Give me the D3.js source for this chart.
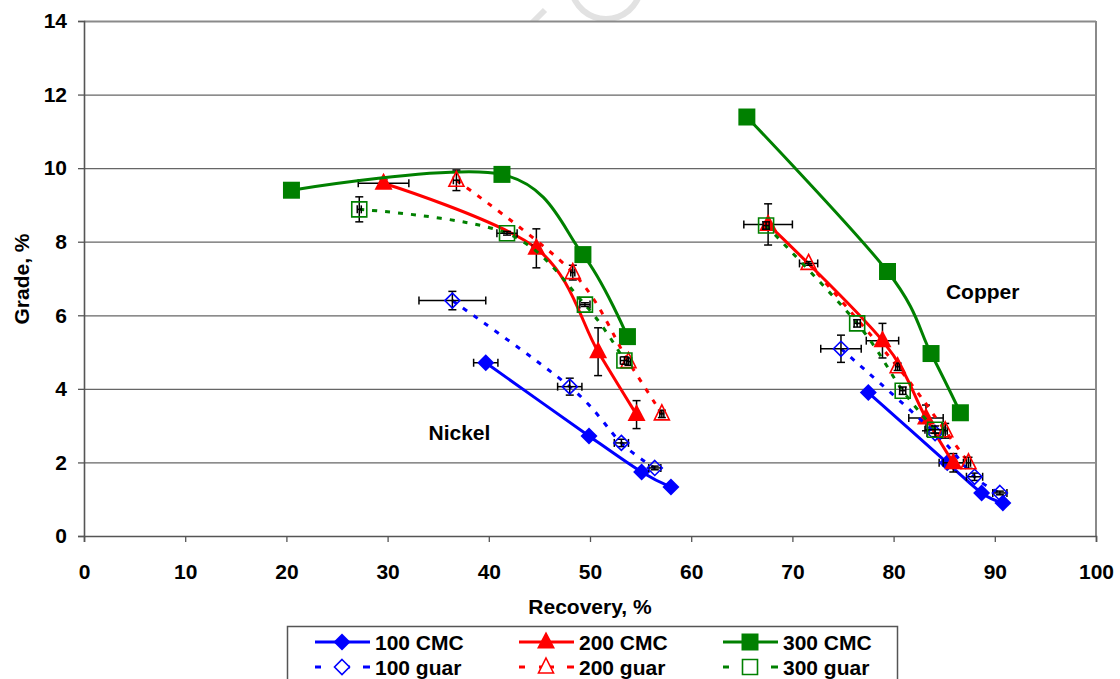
<!DOCTYPE html>
<html>
<head>
<meta charset="utf-8">
<script src="https://cdn.jsdelivr.net/npm/d3@7"></script>
<style>
  html, body { margin: 0; padding: 0; background: #fff; }
  svg { display: block; font-family: "Liberation Sans", Arial, sans-serif; font-weight: bold; }
</style>
</head>
<body>
<svg id="chart" width="1120" height="679"></svg>
<script>
// Grade–recovery points: [recovery %, grade %, recovery error, grade error]
const cmc100Ni  = [[39.7,4.71,1.2,0.05],[49.9,2.72,0,0],[55.1,1.74,0,0],[58.0,1.33,0,0]];
const cmc100Cu  = [[77.5,3.90,0,0],[85.3,1.99,0.8,0],[88.7,1.17,0,0],[90.8,0.90,0,0]];
const cmc200Ni  = [[29.6,9.59,2.5,0.1],[44.7,7.82,0.4,0.53],[50.8,5.01,0.2,0.65],[54.6,3.30,0,0.38]];
const cmc200Cu  = [[67.6,8.47,2.4,0.56],[78.9,5.31,1.6,0.47],[83.2,3.21,1.7,0.35],[85.9,1.99,1.0,0.25]];
const cmc300Ni  = [[20.5,9.40,0,0],[41.3,9.83,0,0],[49.3,7.65,0,0],[53.7,5.42,0,0]];
const cmc300Cu  = [[65.5,11.39,0,0],[79.4,7.19,0,0],[83.7,4.96,0,0],[86.6,3.35,0,0]];
const guar100Ni = [[36.4,6.40,3.3,0.25],[48.0,4.06,1.2,0.23],[53.1,2.53,0.7,0.1],[56.4,1.85,0.6,0.05]];
const guar100Cu = [[74.8,5.09,2.0,0.37],[84.1,2.80,0.8,0.1],[88.0,1.61,0.8,0.1],[90.5,1.17,0.7,0.05]];
const guar200Ni = [[36.8,9.67,0.3,0.28],[48.3,7.16,0.2,0.2],[53.8,4.74,0.2,0.1],[57.1,3.32,0.2,0.1]];
const guar200Cu = [[71.6,7.41,0.9,0.05],[80.4,4.60,0.2,0.1],[85.1,2.86,0.2,0.2],[87.4,1.99,0.2,0.15]];
const guar300Ni = [[27.2,8.88,0.2,0.34],[41.8,8.23,1.0,0.05],[49.5,6.29,0.5,0.05],[53.4,4.77,0.4,0.1]];
const guar300Cu = [[67.4,8.44,0.3,0.1],[76.4,5.78,0.3,0.1],[80.9,3.95,0.3,0.1],[84.1,2.89,1.0,0.1]];

const seriesNames  = ["100 CMC", "200 CMC", "300 CMC", "100 guar", "200 guar", "300 guar"];
const seriesColors = ["#0000ff", "#ff0000", "#008000", "#0000ff", "#ff0000", "#008000"];
const seriesShapes = ["diamond", "triangle", "square", "diamond", "triangle", "square"];
const seriesFilled = [true, true, true, false, false, false];
const seriesData   = [[cmc100Ni, cmc100Cu], [cmc200Ni, cmc200Cu], [cmc300Ni, cmc300Cu],
                      [guar100Ni, guar100Cu], [guar200Ni, guar200Cu], [guar300Ni, guar300Cu]];

const xTicks = [0,10,20,30,40,50,60,70,80,90,100];
const yTicks = [0,2,4,6,8,10,12,14];
const areaLabels = [{text: "Nickel", rec: 37.1, grade: 2.62}, {text: "Copper", rec: 88.8, grade: 6.45}];

const FONT = 21;
const svg = d3.select("#chart");
const x = d3.scaleLinear().domain([0, 100]).range([84, 1096]);
const y = d3.scaleLinear().domain([0, 14]).range([536, 21]);

// faint background mark above the plot
svg.append("path")
  .attr("d", d3.arc()({innerRadius: 32, outerRadius: 38, startAngle: Math.PI * 0.55, endAngle: Math.PI * 1.45}))
  .attr("transform", "translate(606,-16)")
  .attr("fill", "#e2e2e2");
svg.append("line").attr("x1", 531).attr("y1", 24).attr("x2", 545).attr("y2", 10)
  .attr("stroke", "#e2e2e2").attr("stroke-width", 6);

// plot area
svg.append("rect")
  .attr("x", x(0)).attr("y", y(14)).attr("width", x(100) - x(0)).attr("height", y(0) - y(14))
  .attr("fill", "#fff");

// horizontal gridlines
svg.append("g").selectAll("line").data(yTicks.filter(t => t > 0)).join("line")
  .attr("x1", x(0)).attr("x2", x(100))
  .attr("y1", d => y(d) + 0.5).attr("y2", d => y(d) + 0.5)
  .attr("stroke", d => d === 14 ? "#8a8a8a" : "#666").attr("stroke-width", d => d === 14 ? 2 : 1.3);

// right frame
svg.append("line").attr("x1", x(100)).attr("x2", x(100)).attr("y1", y(14)).attr("y2", y(0))
  .attr("stroke", "#8a8a8a").attr("stroke-width", 2);

// axes
const xAxis = svg.append("g").attr("transform", `translate(0,${y(0)})`)
  .call(d3.axisBottom(x).tickValues(xTicks).tickSize(6).tickPadding(22).tickFormat(d3.format("d")));
const yAxis = svg.append("g").attr("transform", `translate(${x(0)},0)`)
  .call(d3.axisLeft(y).tickValues(yTicks).tickSize(6).tickPadding(11).tickFormat(d3.format("d")));
[xAxis, yAxis].forEach(g => {
  g.select(".domain").attr("stroke", "#555").attr("stroke-width", 1.6);
  g.selectAll(".tick line").attr("stroke", "#555").attr("stroke-width", 1.3);
  g.selectAll(".tick text").attr("font-size", FONT).attr("font-weight", "bold")
    .attr("font-family", "'Liberation Sans', Arial, sans-serif").attr("fill", "#000");
});

// axis titles
svg.append("text").attr("x", 590).attr("y", 614).attr("text-anchor", "middle")
  .attr("font-size", FONT).text("Recovery, %");
svg.append("text").attr("transform", "translate(29,279) rotate(-90)").attr("text-anchor", "middle")
  .attr("font-size", FONT).text("Grade, %");

// marker paths
function markerPath(shape, filled) {
  if (shape === "diamond") return filled ? "M0,-8.5L8.5,0L0,8.5L-8.5,0Z" : "M0,-7.5L7.5,0L0,7.5L-7.5,0Z";
  if (shape === "triangle") return filled ? "M0,-10.5L9,6.5L-9,6.5Z" : "M0,-9L7.5,6L-7.5,6Z";
  return filled ? "M-8.5,-8.5H8.5V8.5H-8.5Z" : "M-7.5,-7.5H7.5V7.5H-7.5Z";
}

const line = d3.line().x(d => x(d[0])).y(d => y(d[1])).curve(d3.curveCatmullRom.alpha(0));

const plot = svg.append("g");
seriesData.forEach((groups, i) => {
  const color = seriesColors[i], filled = seriesFilled[i];
  const g = plot.append("g");
  groups.forEach(pts => {
    g.append("path").attr("d", line(pts)).attr("fill", "none")
      .attr("stroke", color).attr("stroke-width", 3)
      .attr("stroke-dasharray", filled ? null : "5,8");
  });
  const all = groups.flat();
  // error bars
  const eb = g.append("g").attr("stroke", "#000").attr("stroke-width", 1.5);
  all.forEach(d => {
    const cx = x(d[0]), cy = y(d[1]);
    if (d[2] > 0) {
      const x0 = x(d[0] - d[2]), x1 = x(d[0] + d[2]);
      eb.append("line").attr("x1", x0).attr("x2", x1).attr("y1", cy).attr("y2", cy);
      eb.append("line").attr("x1", x0).attr("x2", x0).attr("y1", cy - 4).attr("y2", cy + 4);
      eb.append("line").attr("x1", x1).attr("x2", x1).attr("y1", cy - 4).attr("y2", cy + 4);
    }
    if (d[3] > 0) {
      const y0 = y(d[1] - d[3]), y1 = y(d[1] + d[3]);
      eb.append("line").attr("x1", cx).attr("x2", cx).attr("y1", y0).attr("y2", y1);
      eb.append("line").attr("x1", cx - 4).attr("x2", cx + 4).attr("y1", y0).attr("y2", y0);
      eb.append("line").attr("x1", cx - 4).attr("x2", cx + 4).attr("y1", y1).attr("y2", y1);
    }
  });
  // markers
  g.selectAll(".mk").data(all).join("path").attr("class", "mk")
    .attr("d", markerPath(seriesShapes[i], filled))
    .attr("transform", d => `translate(${x(d[0])},${y(d[1])})`)
    .attr("fill", filled ? color : "none")
    .attr("stroke", color).attr("stroke-width", filled ? 0 : 1.6);
});

// region labels
svg.append("g").selectAll("text").data(areaLabels).join("text")
  .attr("x", d => x(d.rec)).attr("y", d => y(d.grade)).attr("text-anchor", "middle")
  .attr("font-size", FONT).text(d => d.text);

// legend
const legend = svg.append("g");
legend.append("rect").attr("x", 287.5).attr("y", 626.5).attr("width", 610).attr("height", 70)
  .attr("fill", "#fff").attr("stroke", "#555").attr("stroke-width", 1.5);
seriesNames.forEach((name, i) => {
  const col = i % 3, row = Math.floor(i / 3);
  const lx = 315 + col * 204, ly = row === 0 ? 642 : 667;
  const color = seriesColors[i], filled = seriesFilled[i];
  const item = legend.append("g");
  if (filled) {
    item.append("line").attr("x1", lx).attr("x2", lx + 55).attr("y1", ly).attr("y2", ly)
      .attr("stroke", color).attr("stroke-width", 3);
  } else {
    [[lx, lx + 6], [lx + 20, lx + 25], [lx + 30, lx + 35], [lx + 48, lx + 55]].forEach(s => {
      item.append("line").attr("x1", s[0]).attr("x2", s[1]).attr("y1", ly).attr("y2", ly)
        .attr("stroke", color).attr("stroke-width", 3);
    });
  }
  item.append("path").attr("d", markerPath(seriesShapes[i], filled))
    .attr("transform", `translate(${lx + 27},${ly})`)
    .attr("fill", filled ? color : "#fff").attr("stroke", color).attr("stroke-width", filled ? 0 : 1.6);
  item.append("text").attr("x", lx + 60).attr("y", ly + 8).attr("font-size", FONT).text(name);
});
</script>
</body>
</html>
